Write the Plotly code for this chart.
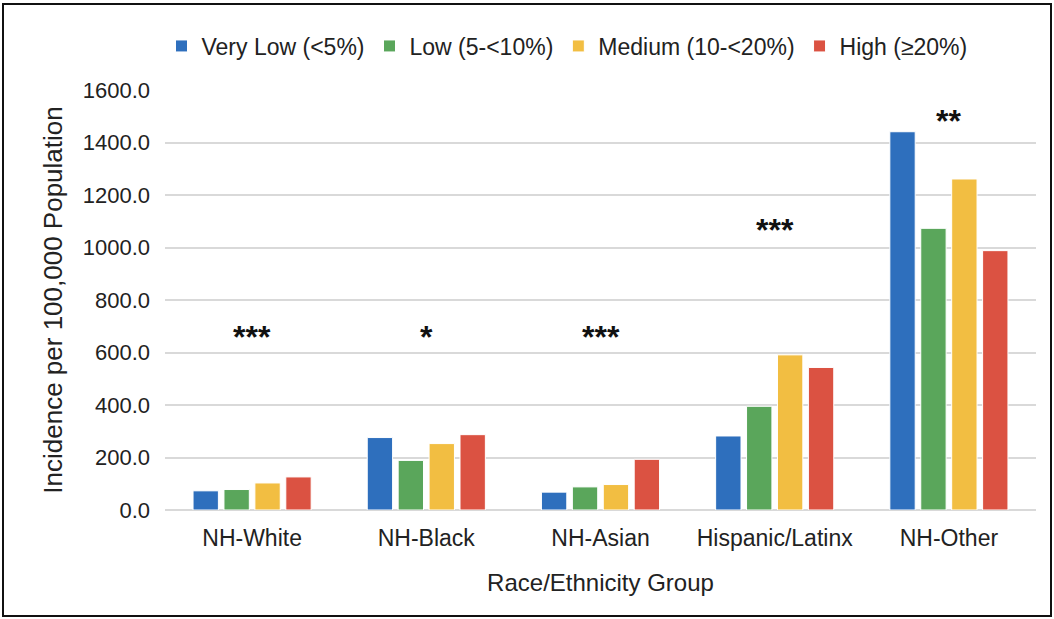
import plotly.graph_objects as go

# Incidence per 100,000 population by race/ethnicity and exposure tier
groups = ["NH-White", "NH-Black", "NH-Asian", "Hispanic/Latinx", "NH-Other"]
series_names = ["Very Low (<5%)", "Low (5-<10%)", "Medium (10-<20%)", "High (≥20%)"]
very_low = [73.0, 276.0, 68.0, 282.0, 1441.0]
low = [78.0, 189.0, 88.0, 395.0, 1073.0]
medium = [103.0, 253.0, 97.0, 591.0, 1261.0]
high = [126.0, 287.0, 193.0, 543.0, 988.0]
significance = ["***", "*", "***", "***", "**"]
significance_y = [660.0, 660.0, 660.0, 1065.0, 1482.0]

colors = ["#2E6FBD", "#5AA65B", "#F2BE42", "#DB5242"]
values = [very_low, low, medium, high]

W, H = 1054, 619
ML, MR, MT, MB = 165, 18, 90, 109
PW, PH = W - ML - MR, H - MT - MB

fig = go.Figure()
for name, vals, col in zip(series_names, values, colors):
    fig.add_trace(go.Bar(
        x=groups, y=vals, name=name,
        marker=dict(color=col, line=dict(color="white", width=1)),
    ))

for g, s, yv in zip(groups, significance, significance_y):
    fig.add_annotation(x=g, y=yv, text="<b>" + s + "</b>", showarrow=False,
                       font=dict(size=32, color="#111111", family="Liberation Sans"),
                       yanchor="middle")


def px_x(p):
    return (p - ML) / PW


def px_y(p):
    return (H - MB - p) / PH


# outer frame around the whole figure
fig.add_shape(type="rect", xref="paper", yref="paper",
              x0=px_x(3), x1=px_x(1051), y0=px_y(616), y1=px_y(4),
              line=dict(color="#111111", width=2), fillcolor="rgba(0,0,0,0)",
              layer="above")

fig.update_layout(
    width=W, height=H,
    margin=dict(l=ML, r=MR, t=MT, b=MB),
    paper_bgcolor="white", plot_bgcolor="white",
    font=dict(family="Liberation Sans, Arial, sans-serif", size=22, color="#222222"),
    barmode="group", bargap=0.29, bargroupgap=0.18,
    showlegend=True,
    legend=dict(orientation="h", x=px_x(567), xanchor="center",
                y=px_y(46), yanchor="middle",
                font=dict(size=23, color="#222222"),
                itemwidth=30, traceorder="normal"),
    xaxis=dict(
        title=dict(text="Race/Ethnicity Group", font=dict(size=24), standoff=24),
        showgrid=False, showline=False, ticks="", tickfont=dict(size=23),
        ticklabelstandoff=12,
    ),
    yaxis=dict(
        title=dict(text="Incidence per 100,000 Population", font=dict(size=26), standoff=12),
        range=[0, 1600], dtick=200, tickformat=".1f",
        showgrid=True, gridcolor="#D9D9D9", gridwidth=1.5,
        zeroline=True, zerolinecolor="#D9D9D9", zerolinewidth=1.5,
        showline=False, ticks="", ticklabelstandoff=14, tickfont=dict(size=22),
    ),
)

fig.write_html("out.html")
